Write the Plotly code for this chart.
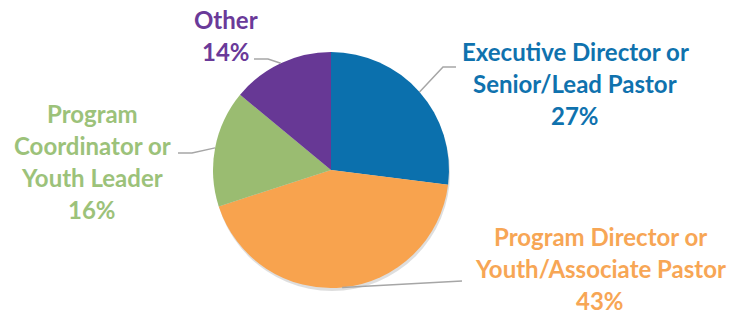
import math
import plotly.graph_objects as go

categories = ["Executive Director or Senior/Lead Pastor",
              "Program Director or Youth/Associate Pastor",
              "Program Coordinator or Youth Leader",
              "Other"]
values = [27, 43, 16, 14]
colors = ["#0B70AD", "#F8A34E", "#9ABC71", "#673895"]
text_colors = ["#0F72AE", "#F7A655", "#9CC27A", "#6A3A99"]
label_lines = [["Executive Director or", "Senior/Lead Pastor", "27%"],
               ["Program Director or", "Youth/Associate Pastor", "43%"],
               ["Program", "Coordinator or", "Youth Leader", "16%"],
               ["Other", "14%"]]

W, H = 735, 313
CX, CY, R = 331, 170, 118

# label layout (pixel positions of first line centre, line spacing)
label_pos = [(575, 52), (600, 236), (92, 113), (226, 19)]
LINE_GAP = 32
# leader elbows (outer points)
elbows = [[(456, 67), (443, 67)],
          [(462, 281)],
          [(178, 153), (192, 153)],
          [(254, 59), (268, 59)]]

def px(x):
    return x / W

def py(y):
    return 1 - y / H

fig = go.Figure()

# soft shadow
SH = 3
fig.add_trace(go.Pie(
    values=[1], marker=dict(colors=["rgba(0,0,0,0.13)"], line=dict(width=0)),
    domain=dict(x=[px(CX - R + 1), px(CX + R + 1)], y=[py(CY + R + SH), py(CY - R + SH)]),
    textinfo="none", hoverinfo="skip", showlegend=False))

fig.add_trace(go.Pie(
    labels=categories, values=values, sort=False, direction="clockwise", rotation=0,
    marker=dict(colors=colors, line=dict(width=0)),
    domain=dict(x=[px(CX - R), px(CX + R)], y=[py(CY + R), py(CY - R)]),
    textinfo="none", showlegend=False))

total = sum(values)
cum = 0
shapes = []
annotations = []
for i, v in enumerate(values):
    mid = (cum + v / 2) / total * 2 * math.pi
    cum += v
    ex = CX + R * math.sin(mid)
    ey = CY - R * math.cos(mid)
    pts = elbows[i] + [(ex, ey)]
    path = "M " + " L ".join(f"{px(x):.5f},{py(y):.5f}" for x, y in pts)
    shapes.append(dict(type="path", path=path, xref="paper", yref="paper",
                       line=dict(color="#A6A6A6", width=1.5)))
    lx, ly = label_pos[i]
    for j, t in enumerate(label_lines[i]):
        annotations.append(dict(
            text=f"<b>{t}</b>", x=px(lx), y=py(ly + j * LINE_GAP),
            xref="paper", yref="paper", xanchor="center", yanchor="middle",
            showarrow=False, font=dict(family="Lato", size=24, color=text_colors[i])))

fig.update_layout(width=W, height=H, margin=dict(l=0, r=0, t=0, b=0),
                  paper_bgcolor="white", plot_bgcolor="white",
                  shapes=shapes, annotations=annotations)

fig.write_html("out.html", config={"displayModeBar": False},
               post_script="document.body.style.margin='0px';")
